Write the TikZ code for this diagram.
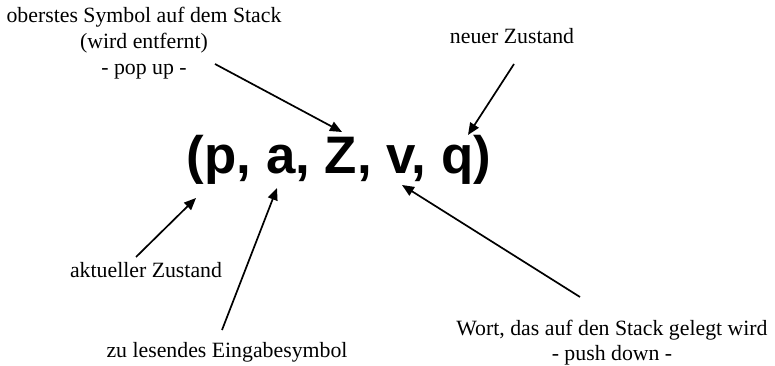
\documentclass[tikz,border=0pt]{standalone}
\usepackage{fontspec}
\setmainfont{Liberation Serif}
\newfontfamily\tuplefont{Liberation Sans}
\usetikzlibrary{arrows.meta}
\tikzset{
  lbl/.style={anchor=base, inner sep=0pt, font=\fontsize{21.8}{26}\selectfont},
  tuple/.style={anchor=base, inner sep=0pt, font=\tuplefont\bfseries\fontsize{52.8}{60}\selectfont},
  arr/.style={line width=1.7pt, -{Triangle[length=12pt,width=10pt]}}
}
\begin{document}
\begin{tikzpicture}[x=1pt,y=-1pt]
\useasboundingbox (0,0) rectangle (775,366);
% tuple
\node[tuple] (tup) at (339,173) {(p, a, Z, v, q)};
% labels
\node[lbl] (top1) at (144,22.5) {oberstes Symbol auf dem Stack};
\node[lbl] (top2) at (144,49) {(wird entfernt)};
\node[lbl] (top3) at (144,75) {- pop up -};
\node[lbl] (neu) at (512,44) {neuer Zustand};
\node[lbl] (akt) at (146,277) {aktueller Zustand};
\node[lbl] (ein) at (227,357) {zu lesendes Eingabesymbol};
\node[lbl] (wort1) at (612,335) {Wort, das auf den Stack gelegt wird};
\node[lbl] (wort2) at (612,360) {- push down -};
% arrow endpoints
\coordinate (s1) at (215,64);   \coordinate (t1) at (342,132);
\coordinate (s2) at (514,64);   \coordinate (t2) at (468,135);
\coordinate (s3) at (136,257);  \coordinate (t3) at (196,198);
\coordinate (s4) at (222,330);  \coordinate (t4) at (277,188);
\coordinate (s5) at (580,297);  \coordinate (t5) at (402,185);
\draw[arr] (s1) -- (t1);
\draw[arr] (s2) -- (t2);
\draw[arr] (s3) -- (t3);
\draw[arr] (s4) -- (t4);
\draw[arr] (s5) -- (t5);
\end{tikzpicture}
\end{document}
